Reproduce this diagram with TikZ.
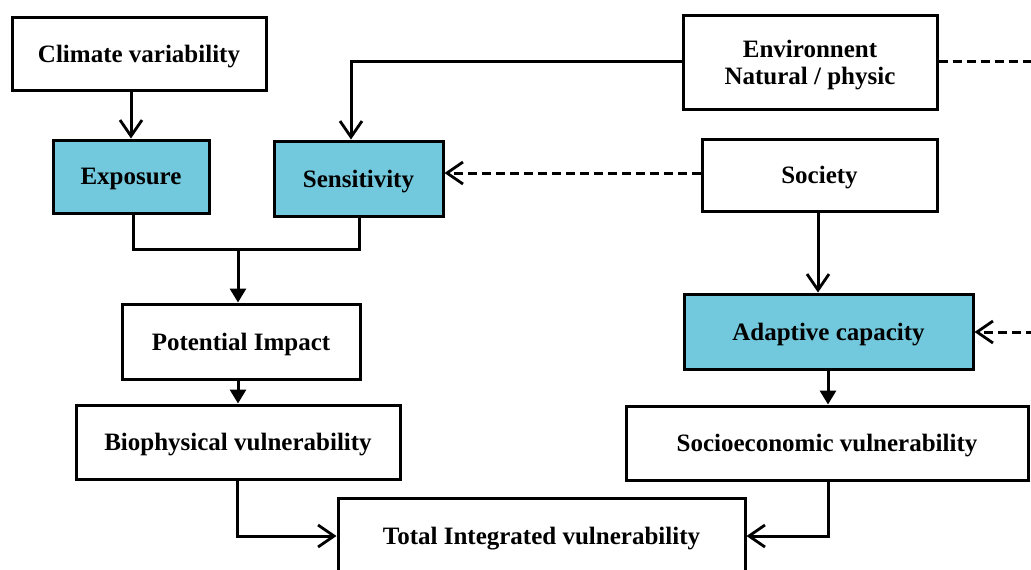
\documentclass[tikz,border=0pt]{standalone}
\usepackage{fontspec}
\setmainfont{Liberation Serif}
\usetikzlibrary{arrows.meta,positioning}
\definecolor{cyanbox}{RGB}{114,201,221}
\begin{document}
\begin{tikzpicture}[x=0.5pt,y=-0.5pt,
  box/.style={draw=black,line width=1.5pt,fill=white,inner sep=0pt,align=center,text depth=0pt,
    font=\fontsize{12.5}{13.5}\selectfont\bfseries},
  bluebox/.style={box,fill=cyanbox},
  conn/.style={line width=1.5pt},
  openarr/.style={conn,-{Straight Barb[length=8pt,width=11pt,line width=1.4pt]}},
  fillarr/.style={conn,-{Triangle[length=7pt,width=8pt]}},
  dashline/.style={conn,dash pattern=on 4.5pt off 2.5pt}]
\clip (0,0) rectangle (1031,569);
\fill[white] (0,0) rectangle (1031,569);
% nodes
\node[box,minimum width=127pt,minimum height=36.5pt] (clim) at (139,53.5) {Climate variability};
\node[bluebox,minimum width=78pt,minimum height=36.5pt] (expo) at (131,176.5) {Exposure};
\node[bluebox,minimum width=84.5pt,minimum height=37.5pt] (sens) at (358.5,178.5) {Sensitivity};
\node[box,minimum width=127pt,minimum height=47pt] (env) at (810,62) {Environnent\\Natural / physic};
\node[box,minimum width=117.5pt,minimum height=36pt] (soc) at (819.5,175) {Society};
\node[box,minimum width=119pt,minimum height=37.5pt] (pi) at (241,341.5) {Potential Impact};
\node[box,minimum width=162pt,minimum height=37pt] (bio) at (238,442) {Biophysical vulnerability};
\node[bluebox,minimum width=144.5pt,minimum height=37.5pt] (adap) at (828.5,331.5) {Adaptive capacity};
\node[box,minimum width=201pt,minimum height=37pt] (socio) at (827,443) {Socioeconomic vulnerability};
\node[box,minimum width=203.5pt,minimum height=38pt] (tot) at (541.5,536) {Total Integrated vulnerability};
% free ends
\coordinate (envend) at (1035,61);
\coordinate (adapend) at (1035,332);
\coordinate (merge) at (238,249);
% connectors
\draw[openarr] (clim.south -| expo.north) -- (expo.north);
\draw[openarr] (env.west |- 0,61) -- (351,61) -- (sens.north -| 351,0);
\draw[dashline] (env.east |- 0,61) -- (envend);
\draw[openarr,dash pattern=on 4.5pt off 2.5pt] (soc.west |- 0,173) -- (sens.east |- 0,173);
\draw[conn] (expo.south -| 133,0) -- (133,249) -- (359,249) -- (sens.south -| 359,0);
\draw[fillarr] (merge) -- (pi.north -| merge);
\draw[fillarr] (pi.south -| 238,0) -- (bio.north -| 238,0);
\draw[openarr] (soc.south -| 818,0) -- (adap.north -| 818,0);
\draw[openarr,dash pattern=on 4.5pt off 2.5pt] (adapend) -- (adap.east |- adapend);
\draw[fillarr] (adap.south -| 828,0) -- (socio.north -| 828,0);
\draw[openarr] (bio.south -| 237,0) -- (237,536) -- (tot.west);
\draw[openarr] (socio.south -| 828,0) -- (828,536) -- (tot.east);
\end{tikzpicture}
\end{document}
